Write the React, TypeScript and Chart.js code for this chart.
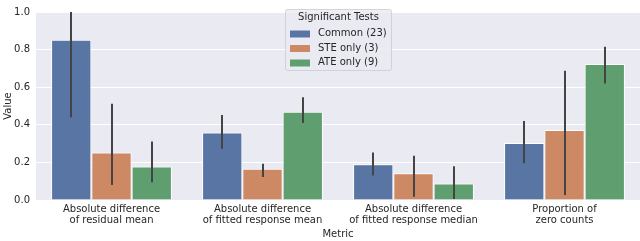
import React, { useEffect, useRef } from "react";
import { Chart, registerables } from "chart.js";

Chart.register(...registerables);

const categories: string[][] = [
  ["Absolute difference", "of residual mean"],
  ["Absolute difference", "of fitted response mean"],
  ["Absolute difference", "of fitted response median"],
  ["Proportion of", "zero counts"],
];

const seriesNames = ["Common (23)", "STE only (3)", "ATE only (9)"];
const seriesColors = ["#5975a4", "#cc8963", "#5f9e6e"];

const commonValues = [0.853, 0.359, 0.19, 0.303];
const steValues = [0.253, 0.166, 0.142, 0.372];
const ateValues = [0.178, 0.469, 0.088, 0.723];

const commonLow = [0.44, 0.272, 0.13, 0.195];
const commonHigh = [1.05, 0.452, 0.253, 0.42];
const steLow = [0.08, 0.122, 0.017, 0.027];
const steHigh = [0.512, 0.193, 0.235, 0.687];
const ateLow = [0.095, 0.41, 0.005, 0.62];
const ateHigh = [0.311, 0.546, 0.18, 0.815];

const yTicks = [0, 0.2, 0.4, 0.6, 0.8, 1.0];

const TEXT = "#262626";
const FONT = "DejaVu Sans";

export default function App() {
  const ref = useRef<HTMLCanvasElement | null>(null);

  useEffect(() => {
    document.body.style.margin = "0";
    const canvas = ref.current!;
    const lows = [commonLow, steLow, ateLow];
    const highs = [commonHigh, steHigh, ateHigh];

    const bgPlugin = {
      id: "bg",
      beforeDraw(chart: any) {
        const { ctx, chartArea: a } = chart;
        ctx.save();
        ctx.fillStyle = "#eaeaf2";
        ctx.fillRect(a.left, a.top, a.right - a.left, a.bottom - a.top);
        ctx.restore();
      },
    };

    const errPlugin = {
      id: "err",
      afterDatasetsDraw(chart: any) {
        const { ctx, chartArea: a } = chart;
        const y = chart.scales.y;
        ctx.save();
        ctx.beginPath();
        ctx.rect(a.left, a.top, a.right - a.left, a.bottom - a.top);
        ctx.clip();
        ctx.strokeStyle = "#444444";
        ctx.lineWidth = 2;
        chart.data.datasets.forEach((_: any, di: number) => {
          const meta = chart.getDatasetMeta(di);
          meta.data.forEach((el: any, i: number) => {
            const x = Math.round(el.x);
            ctx.beginPath();
            ctx.moveTo(x, y.getPixelForValue(lows[di][i]));
            ctx.lineTo(x, y.getPixelForValue(highs[di][i]));
            ctx.stroke();
          });
        });
        ctx.restore();
      },
    };

    const legendPlugin = {
      id: "customLegend",
      afterDraw(chart: any) {
        const { ctx } = chart;
        const bx = 285.5, by = 9.5, bw = 106, bh = 61;
        ctx.save();
        ctx.fillStyle = "rgba(234,234,242,0.8)";
        ctx.strokeStyle = "rgba(204,204,204,0.8)";
        ctx.lineWidth = 1;
        ctx.beginPath();
        (ctx as any).roundRect(bx, by, bw, bh, 2);
        ctx.fill();
        ctx.stroke();
        ctx.fillStyle = TEXT;
        ctx.font = `10px "${FONT}"`;
        ctx.textBaseline = "middle";
        ctx.textAlign = "center";
        ctx.fillText("Significant Tests", bx + bw / 2, 17.5);
        ctx.textAlign = "left";
        const ys = [33.5, 48, 62.5];
        seriesNames.forEach((n, i) => {
          ctx.fillStyle = seriesColors[i];
          ctx.fillRect(290, ys[i] - 3, 20, 7);
          ctx.fillStyle = TEXT;
          ctx.fillText(n, 318, ys[i]);
        });
        ctx.restore();
      },
    };

    const valuesAll = [commonValues, steValues, ateValues];
    const chart = new Chart(canvas, {
      type: "bar",
      data: {
        labels: categories as any,
        datasets: seriesNames.map((n, i) => ({
          label: n,
          data: valuesAll[i],
          backgroundColor: seriesColors[i],
          borderColor: "#ffffff",
          borderWidth: 1,
          categoryPercentage: 0.8,
          barPercentage: 1.0,
        })),
      },
      options: {
        responsive: false,
        animation: false,
        devicePixelRatio: 1,
        layout: { padding: { top: 5, right: 0, left: 0, bottom: 0 } },
        plugins: { legend: { display: false }, tooltip: { enabled: false } },
        scales: {
          x: {
            grid: { display: false, drawTicks: false },
            border: { display: false },
            ticks: {
              color: TEXT,
              font: { family: FONT, size: 10, lineHeight: 1.1 },
              padding: 4,
              maxRotation: 0,
              autoSkip: false,
            },
            title: {
              display: true,
              text: "Metric",
              color: TEXT,
              font: { family: FONT, size: 10 },
              padding: { top: 0, bottom: 1 },
            },
            afterFit(s: any) {
              s.height = 41;
            },
          },
          y: {
            min: 0,
            max: 1,
            afterBuildTicks(s: any) {
              s.ticks = yTicks.map((v) => ({ value: v }));
            },
            grid: { color: "#ffffff", lineWidth: 1, drawTicks: false },
            border: { display: false },
            ticks: {
              color: TEXT,
              font: { family: FONT, size: 10 },
              padding: 6,
              callback: (v: any) => Number(v).toFixed(1),
            },
            title: {
              display: true,
              text: "Value",
              color: TEXT,
              font: { family: FONT, size: 10 },
              padding: { top: 2, bottom: 0 },
            },
            afterFit(s: any) {
              s.width = 36;
            },
          },
        },
      },
      plugins: [bgPlugin, errPlugin, legendPlugin],
    });
    return () => chart.destroy();
  }, []);

  return <canvas ref={ref} width={640} height={241} style={{ display: "block" }} />;
}
